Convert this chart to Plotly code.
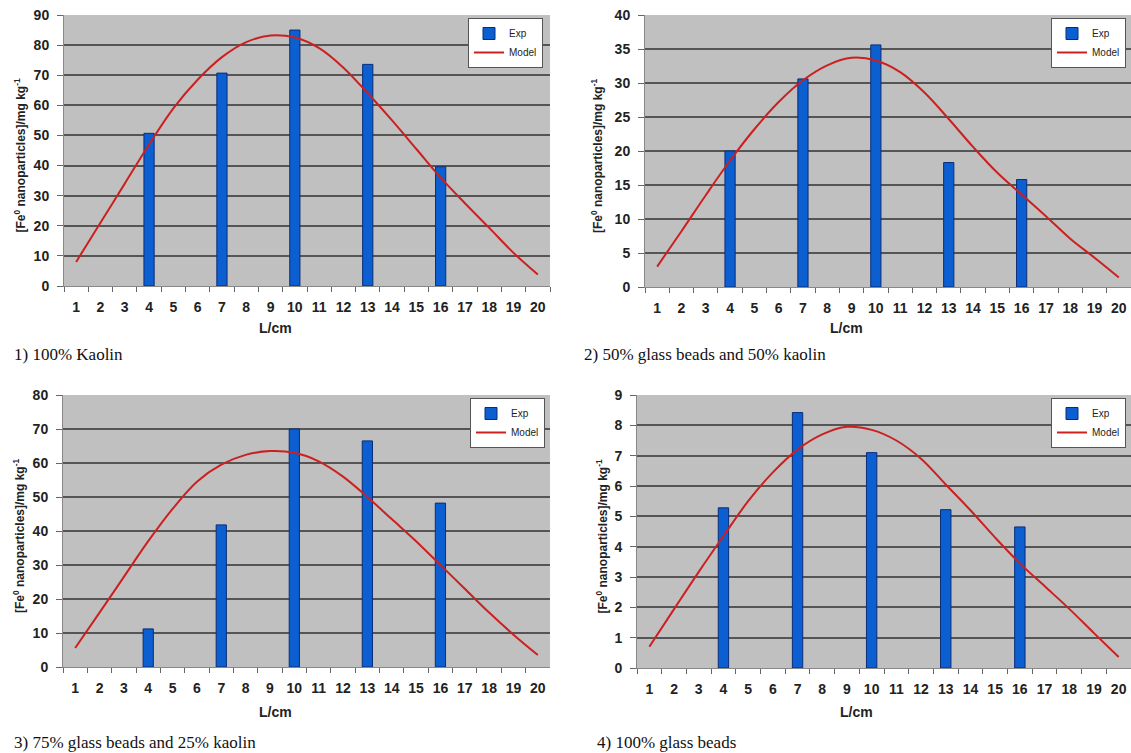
import plotly.graph_objects as go

W, H = 1131, 753

categories = [str(i) for i in range(1, 21)]
bar_cats = ["4", "7", "10", "13", "16"]

exp1 = [50.7, 70.7, 85.0, 73.6, 39.6]
model1 = [8.0, 21.0, 34.0, 47.0, 59.0, 68.5, 76.0, 81.0, 83.2, 82.5, 79.0, 72.5, 64.0,
          55.0, 45.5, 36.0, 27.5, 19.3, 11.0, 3.8]

exp2 = [20.0, 30.6, 35.6, 18.3, 15.8]
model2 = [3.0, 8.2, 13.5, 18.6, 23.2, 27.2, 30.4, 32.6, 33.7, 33.3, 31.6, 28.6, 24.7,
          20.6, 16.8, 13.6, 10.4, 7.1, 4.3, 1.4]

exp3 = [11.2, 41.8, 70.0, 66.5, 48.2]
model3 = [5.6, 16.0, 26.5, 37.0, 46.5, 54.5, 59.5, 62.4, 63.5, 63.0, 60.5, 56.0, 50.0,
          43.5, 37.0, 30.0, 23.0, 16.0, 9.5, 3.5]

exp4 = [5.28, 8.42, 7.10, 5.22, 4.65]
model4 = [0.7, 1.94, 3.17, 4.35, 5.5, 6.45, 7.2, 7.7, 7.95, 7.85, 7.5, 6.9, 6.05,
          5.2, 4.3, 3.45, 2.7, 1.95, 1.15, 0.36]

y_ranges = [(0, 90, 10), (0, 40, 5), (0, 80, 10), (0, 9, 1)]
captions = ["1) 100% Kaolin", "2) 50% glass beads and 50% kaolin",
            "3) 75% glass beads and 25% kaolin", "4) 100% glass beads"]

# panel pixel boxes: left, right, top, bottom
boxes = [(64, 550, 15, 286), (645, 1131, 15, 287), (63, 550, 395, 667), (637, 1131, 395, 668)]

BAR_FILL = "#0c5fd0"
BAR_LINE = "#0a2c78"
RED = "#cc2020"
SANS = "Liberation Sans, Arial, sans-serif"
SERIF = "Liberation Serif, Times New Roman, serif"

fig = go.Figure()
series = [(exp1, model1), (exp2, model2), (exp3, model3), (exp4, model4)]

def px_x(p):
    return p / W

def px_y(p):
    return 1 - p / H

annotations = []
for i, ((ex, mo), (l, r, t, b), (y0, y1, dt), cap) in enumerate(zip(series, boxes, y_ranges, captions)):
    n = i + 1
    xa = "x" if n == 1 else f"x{n}"
    ya = "y" if n == 1 else f"y{n}"
    lg = "legend" if n == 1 else f"legend{n}"
    fig.add_trace(go.Bar(x=bar_cats, y=ex, name="Exp", xaxis=xa, yaxis=ya, legend=lg,
                         marker=dict(color=BAR_FILL, line=dict(color=BAR_LINE, width=1)),
                         width=0.42))
    fig.add_trace(go.Scatter(x=categories, y=mo, name="Model", mode="lines", xaxis=xa, yaxis=ya,
                             legend=lg, line=dict(color=RED, width=2, shape="spline", smoothing=1.0)))
    xkey = "xaxis" if n == 1 else f"xaxis{n}"
    ykey = "yaxis" if n == 1 else f"yaxis{n}"
    legend_right = [543, 1126, 545, 1126][i]
    fig.update_layout(**{
        xkey: dict(domain=[px_x(l), px_x(r)], anchor=ya, type="category",
                   categoryorder="array", categoryarray=categories,
                   range=[-0.5, 19.5], tickson="boundaries", ticks="outside", ticklen=5,
                   tickcolor="#666", showline=True, linecolor="#888", linewidth=1,
                   showgrid=False, automargin=False, tickangle=0, ticklabelstandoff=8,
                   ticklabeloverflow="allow",
                   tickfont=dict(family=SANS, size=14, color="#222", weight="bold"),
                   fixedrange=True),
        ykey: dict(domain=[px_y(b), px_y(t)], anchor=xa, range=[y0, y1], dtick=dt,
                   ticks="outside", ticklen=6, tickcolor="#666", showline=True,
                   linecolor="#888", linewidth=1, showgrid=True, gridcolor="#555",
                   gridwidth=1.5, zeroline=False, automargin=False, ticklabelstandoff=5,
                   ticklabeloverflow="allow",
                   tickfont=dict(family=SANS, size=14, color="#222", weight="bold"),
                   fixedrange=True),
        lg: dict(x=px_x(legend_right), y=px_y(t + 3), xanchor="right", yanchor="top",
                 bgcolor="white", bordercolor="#555", borderwidth=1,
                 font=dict(family=SANS, size=10, color="#222"), itemwidth=30,
                 tracegroupgap=0),
    })
    # y title
    annotations.append(dict(text="[Fe<sup>0</sup> nanoparticles]/mg kg<sup>-1</sup>",
                            x=px_x([19, 597, 19, 601][i]), y=px_y((t + b) / 2 + 5),
                            xref="paper", yref="paper", showarrow=False, textangle=-90,
                            xanchor="center", yanchor="middle",
                            font=dict(family=SANS, size=12, color="#222", weight="bold")))
    # x title
    annotations.append(dict(text="L/cm", x=px_x([275, 846, 275, 857][i]),
                            y=px_y([328, 328, 712, 712][i]),
                            xref="paper", yref="paper", showarrow=False,
                            xanchor="center", yanchor="middle",
                            font=dict(family=SANS, size=14, color="#222", weight="bold")))
    # caption
    annotations.append(dict(text=cap, x=px_x([12, 582, 12, 595][i]), y=px_y([354, 354, 742, 742][i]),
                            xref="paper", yref="paper", showarrow=False,
                            xanchor="left", yanchor="middle",
                            font=dict(family=SERIF, size=17, color="#111")))

fig.update_layout(width=W, height=H, margin=dict(l=0, r=0, t=0, b=0, autoexpand=False),
                  paper_bgcolor="white", plot_bgcolor="#c0c0c0", bargap=0.58,
                  annotations=annotations, showlegend=True, hovermode=False)

fig.write_html("out.html",
               config={"displayModeBar": False, "staticPlot": False},
               post_script="document.body.style.margin='0';"
                           "document.body.style.overflow='hidden';"
                           "document.documentElement.style.overflow='hidden';")
